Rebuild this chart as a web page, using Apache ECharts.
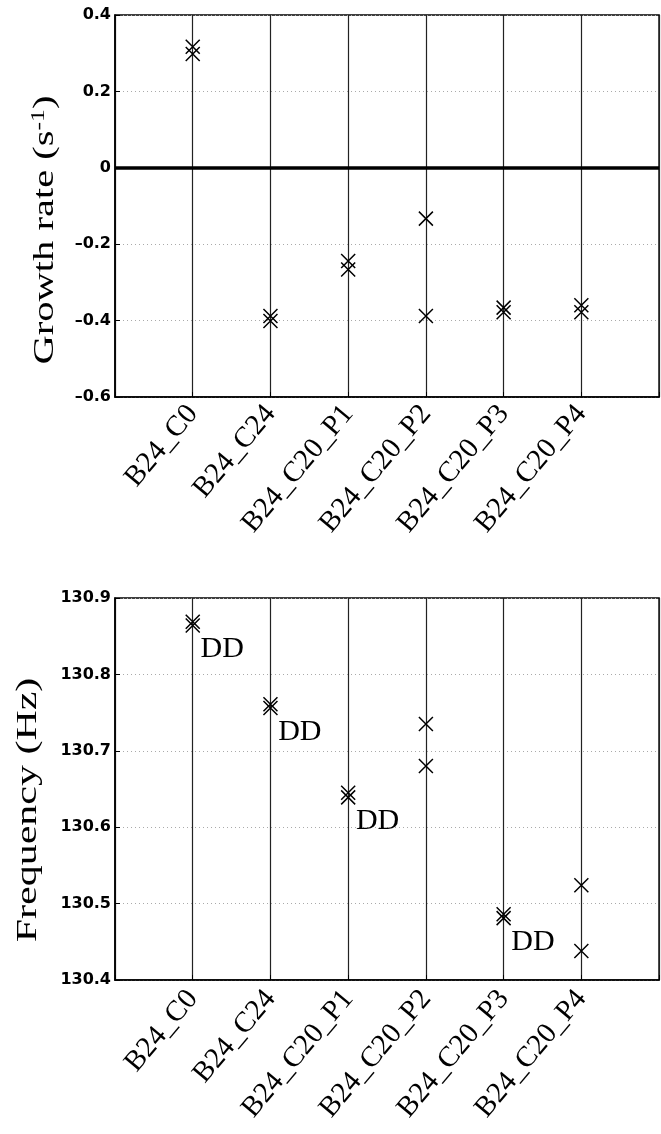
<!DOCTYPE html>
<html>
<head>
<meta charset="utf-8">
<script src="https://cdn.jsdelivr.net/npm/echarts@6/dist/echarts.min.js"></script>
<style>
html,body{margin:0;padding:0;background:#fff;}
#chart{width:661px;height:1134px;}
</style>
</head>
<body>
<div id="chart"></div>
<script>
const categories = ['B24_C0', 'B24_C24', 'B24_C20_P1', 'B24_C20_P2', 'B24_C20_P3', 'B24_C20_P4'];
const growthA = [0.317, -0.388, -0.244, -0.133, -0.366, -0.360];
const growthB = [0.298, -0.401, -0.266, -0.388, -0.378, -0.378];
const freqA = [130.869, 130.761, 130.645, 130.735, 130.486, 130.524];
const freqB = [130.864, 130.756, 130.639, 130.680, 130.481, 130.438];
const ddMarks = ['DD', 'DD', 'DD', '', 'DD', ''];
const growthAxis = {min: -0.6, max: 0.4, step: 0.2};
const freqAxis = {min: 130.4, max: 130.9, step: 0.1};
const growthName = 'Growth rate (s{sup|-1})';
const freqName = 'Frequency (Hz)';

const chart = echarts.init(document.getElementById('chart'), null, {renderer: 'canvas'});

const X_SYMBOL = 'path://M0 0L10 10M10 0L0 10';
const tickFont = {fontFamily: 'DejaVu Sans', fontWeight: 'bold', fontSize: 16, color: '#000'};

function fmtGrowth(v) {
  const r = Math.round(v * 10) / 10;
  if (Math.abs(r) < 1e-9) return '0';
  return (r < 0 ? '\u2013' : '') + Math.abs(r).toFixed(1);
}
function fmtFreq(v) { return (Math.round(v * 10) / 10).toFixed(1); }

function xAxisCfg(gridIndex, margin) {
  return {
    type: 'value', gridIndex: gridIndex, min: 0, max: 7, interval: 1,
    axisLine: {show: true, onZero: false, lineStyle: {color: '#000', width: 1.5}},
    axisTick: {show: true, inside: true, length: 5, lineStyle: {color: '#000'}},
    splitLine: {show: true, lineStyle: {color: '#222', width: 1.2, type: 'solid'}},
    axisLabel: {
      show: true, rotate: 50, margin: margin,
      fontFamily: 'Liberation Serif', fontSize: 29, color: '#000',
      formatter: function (v) { return categories[Math.round(v) - 1] || ''; }
    }
  };
}
function yAxisCfg(gridIndex, ax, fmt) {
  return {
    type: 'value', gridIndex: gridIndex, min: ax.min, max: ax.max, interval: ax.step,
    axisLine: {show: true, onZero: false, lineStyle: {color: '#000', width: 1.5}},
    axisTick: {show: true, inside: true, length: 5, lineStyle: {color: '#000'}},
    splitLine: {show: true, lineStyle: {color: '#aaa', width: 1, type: [1, 3]}},
    axisLabel: Object.assign({margin: 4, formatter: fmt, showMinLabel: true, showMaxLabel: true}, tickFont)
  };
}
function pts(arr) { return arr.map(function (v, i) { return [i + 1, v]; }); }

const markerStyle = {color: 'transparent', borderColor: '#000', borderWidth: 1.5, opacity: 1};

const option = {
  animation: false,
  backgroundColor: '#fff',
  grid: [
    {left: 115, right: -8, top: 15, height: 382, show: true, borderColor: '#000', borderWidth: 1.5, backgroundColor: 'transparent'},
    {left: 115, right: -8, top: 598, height: 382, show: true, borderColor: '#000', borderWidth: 1.5, backgroundColor: 'transparent'}
  ],
  xAxis: [xAxisCfg(0, 12), xAxisCfg(1, 14)],
  yAxis: [yAxisCfg(0, growthAxis, fmtGrowth), yAxisCfg(1, freqAxis, fmtFreq)],
  series: [
    {
      type: 'scatter', xAxisIndex: 0, yAxisIndex: 0, data: pts(growthA),
      symbol: X_SYMBOL, symbolSize: 14, itemStyle: markerStyle, silent: true,
      markLine: {
        silent: true, symbol: ['none', 'none'], label: {show: false},
        lineStyle: {color: '#000', width: 3.5, type: 'solid', opacity: 1},
        data: [{yAxis: 0}]
      }
    },
    {
      type: 'scatter', xAxisIndex: 0, yAxisIndex: 0, data: pts(growthB),
      symbol: X_SYMBOL, symbolSize: 14, itemStyle: markerStyle, silent: true
    },
    {
      type: 'scatter', xAxisIndex: 1, yAxisIndex: 1, data: pts(freqA),
      symbol: X_SYMBOL, symbolSize: 14, itemStyle: markerStyle, silent: true
    },
    {
      type: 'scatter', xAxisIndex: 1, yAxisIndex: 1, silent: true,
      symbol: X_SYMBOL, symbolSize: 14, itemStyle: markerStyle,
      data: freqB.map(function (v, i) {
        return {
          value: [i + 1, v],
          label: {
            show: ddMarks[i] !== '', formatter: ddMarks[i] || ' ',
            position: 'right', distance: 0, offset: [0, 24], opacity: 1,
            fontFamily: 'Liberation Serif', fontSize: 30, color: '#000'
          }
        };
      })
    }
  ],
  graphic: [
    {
      type: 'text', x: 45, y: 230, rotation: Math.PI / 2, scaleX: 1.35, silent: true,
      style: {
        text: growthName, fontFamily: 'Liberation Serif', fontSize: 30, fill: '#000',
        align: 'center', verticalAlign: 'middle',
        rich: {sup: {fontFamily: 'Liberation Serif', fontSize: 19, verticalAlign: 'top', padding: [0, 0, 12, 0]}}
      }
    },
    {
      type: 'text', x: 28, y: 810, rotation: Math.PI / 2, scaleX: 1.4, silent: true,
      style: {
        text: freqName, fontFamily: 'Liberation Serif', fontSize: 30, fill: '#000',
        align: 'center', verticalAlign: 'middle'
      }
    }
  ]
};
chart.setOption(option);
</script>
</body>
</html>
